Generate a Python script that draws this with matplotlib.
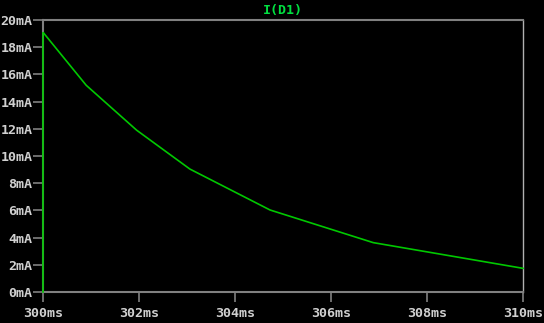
import matplotlib
matplotlib.use("Agg")
import matplotlib.pyplot as plt

time_ms = [300, 300, 300.9, 301.95, 303.06, 304.73, 306.88, 310]
current_mA = [0, 19.1, 15.2, 11.9, 9.04, 6.03, 3.63, 1.74]
x_ticks = [300, 302, 304, 306, 308, 310]
x_labels = ["300ms", "302ms", "304ms", "306ms", "308ms", "310ms"]
y_ticks = [0, 2, 4, 6, 8, 10, 12, 14, 16, 18, 20]
y_labels = [f"{v}mA" for v in y_ticks]
title = "I(D1)"

W, H = 544, 323
fig = plt.figure(figsize=(W / 100, H / 100), dpi=100, facecolor="black")
ax = fig.add_axes([43 / W, 1 - 292 / H, (523 - 43) / W, (292 - 20) / H], facecolor="black")

grey = "#808080"
txt = "#d0d0d0"
ax.plot(time_ms, current_mA, color="#00c800", lw=1.2, solid_joinstyle="miter", zorder=3, clip_on=False)

ax.set_xlim(300, 310)
ax.set_ylim(0, 20)
ax.set_xticks(x_ticks)
ax.set_xticklabels(x_labels)
ax.set_yticks(y_ticks)
ax.set_yticklabels(y_labels)
for s in ax.spines.values():
    s.set_color(grey)
    s.set_linewidth(1.5)
ax.spines["right"].set_color("#b0b0b0")
ax.spines["right"].set_linewidth(1.0)
ax.tick_params(colors=grey, length=7, width=1.2, direction="out", pad=0.5)
ax.tick_params(axis="x", pad=4)
for lab in ax.get_xticklabels() + ax.get_yticklabels():
    lab.set_color(txt)
    lab.set_fontfamily("DejaVu Sans Mono")
    lab.set_fontweight("bold")
    lab.set_fontsize(9.6)
ax.set_title(title, color="#00e040", fontfamily="DejaVu Sans Mono", fontweight="bold",
             fontsize=9.6, pad=4)

fig.savefig("out.png", dpi=100, facecolor="black")
